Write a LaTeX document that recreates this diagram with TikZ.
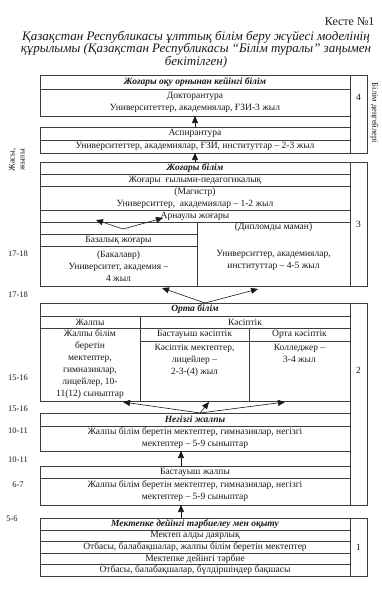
\documentclass[tikz,border=0pt]{standalone}
\usepackage{fontspec}
\setmainfont{Liberation Serif}
\usepackage{tikz}
\usetikzlibrary{arrows.meta,positioning}
\definecolor{ink}{HTML}{1A1A1A}
\definecolor{rule}{HTML}{3C3C3C}
\tikzset{
  cell/.style={
    rectangle, draw=rule, line width=0.5pt,
    inner sep=0pt, outer sep=0pt,
    minimum width=#1, text=ink,
    font=\fontsize{9.5}{12}\selectfont, align=center
  },
  cell/.default=310pt,
  headcell/.style={cell=#1,
    font=\fontsize{9.5}{12}\selectfont\bfseries\itshape},
  headcell/.default=310pt,
  celltext/.style={inner sep=0pt, text=ink,
    font=\fontsize{9.5}{12}\selectfont, align=center},
  levelcol/.style={rectangle, draw=rule, line width=0.5pt,
    inner sep=0pt, outer sep=0pt, minimum width=17pt},
  levelnum/.style={text=ink, font=\fontsize{9.5}{12}\selectfont},
  agelabel/.style={text=ink, font=\fontsize{8.5}{10}\selectfont},
  uparrow/.style={
    -{Triangle[length=7pt,width=6pt]}, line width=0.6pt, draw=ink
  },
}

\begin{document}
\begin{tikzpicture}[x=1pt, y=-1pt]
\fill[white] (0,0) rectangle (381,600);
\useasboundingbox (0,0) rectangle (381,600);
% title
\node[anchor=east, text=ink, font=\fontsize{12}{14}\selectfont] (tabno) at (378,22) {Кесте №1};
\node[text=ink, align=center, font=\fontsize{13}{12.6}\selectfont\itshape] (caption) at (196,49.5)
  {Қазақстан Республикасы ұлттық білім беру жүйесі моделінің\\
   құрылымы (Қазақстан Республикасы “Білім туралы” заңымен\\
   бекітілген)};
% level 4
\node[headcell, minimum height=14pt, anchor=north west] (pghead) at (40,75) {Жоғары оқу орнынан кейінгі білім};
\node[cell, minimum height=27pt, below=0pt of pghead] (phd) {Докторантура\\Университеттер, академиялар, ҒЗИ-3 жыл};
\node[cell, minimum height=13pt, anchor=north west] (asphead) at (40,127) {Аспирантура};
\node[cell, minimum height=13pt, below=0pt of asphead] (asp) {Университеттер, академиялар, ҒЗИ, институттар – 2-3 жыл};
\node[levelcol, minimum height=78pt, anchor=north west] (col4) at (350,75) {};
\node[levelnum] (num4) at (358.5,97) {4};
\node[text=ink, font=\fontsize{8.5}{10}\selectfont, rotate=-90] (levels) at (374.5,113) {Білім деңгейлері};
% level 3
\node[headcell, minimum height=12pt, anchor=north west] (hihead) at (40,162) {Жоғары білім};
\node[cell, minimum height=12pt, below=0pt of hihead] (sci) {Жоғары\ \ ғылыми-педагогикалық};
\node[cell, minimum height=24pt, below=0pt of sci] (mag) {(Магистр)\\Университтер,\ \ академиялар – 1-2 жыл};
\node[cell, minimum height=12pt, below=0pt of mag] (spec) {Арнаулы жоғары};
\node[cell=157pt, minimum height=12pt, anchor=north west] (gap3) at (spec.south west) {};
\node[cell=157pt, minimum height=12pt, below=0pt of gap3] (bachhead) {Базалық жоғары};
\node[cell=157pt, minimum height=40pt, below=0pt of bachhead] (bach) {(Бакалавр)\\Университет, академия –\\4 жыл};
\node[cell=153pt, minimum height=64pt, anchor=north east] (dipl) at (spec.south east) {};
\node[celltext, below=1pt of dipl.north] (dipltop) {(Дипломды маман)};
\node[celltext, below=18pt of dipltop] (diplbody) {Университтер, академиялар,\\институттар – 4-5 жыл};
\node[levelcol, minimum height=124pt, anchor=north west] (col3) at (350,162) {};
\node[levelnum] (num3) at (col3) {3};
% level 2
\node[headcell, minimum height=13pt, anchor=north west] (sechead) at (40,303) {Орта білім};
\node[cell=100pt, minimum height=12pt, anchor=north west] (genhead) at (sechead.south west) {Жалпы};
\node[cell=100pt, minimum height=73pt, below=0pt of genhead] (gen) {Жалпы білім\\беретін\\мектептер,\\гимназиялар,\\лицейлер, 10-\\11(12) сыныптар};
\node[cell=210pt, minimum height=12pt, anchor=north east] (vochead) at (sechead.south east) {Кәсіптік};
\node[cell=109pt, minimum height=13pt, anchor=north west] (vet1head) at (vochead.south west) {Бастауыш кәсіптік};
\node[cell=109pt, minimum height=60pt, below=0pt of vet1head] (vet1) {};
\node[cell=101pt, minimum height=13pt, anchor=north east] (vet2head) at (vochead.south east) {Орта кәсіптік};
\node[cell=101pt, minimum height=60pt, below=0pt of vet2head] (vet2) {};
\node[celltext, below=3pt of vet1.north] (vet1text) {Кәсіптік мектептер,\\лицейлер –\\2-3-(4) жыл};
\node[celltext, below=3pt of vet2.north] (vet2text) {Колледжер –\\3-4 жыл};
\node[headcell, minimum height=13pt, anchor=north west] (lsechead) at (40,413) {Негізгі жалпы};
\node[cell, minimum height=25pt, below=0pt of lsechead] (lsec) {Жалпы білім беретін мектептер, гимназиялар, негізгі\\мектептер – 5-9 сыныптар};
\node[cell, minimum height=12pt, anchor=north west] (primhead) at (40,466) {Бастауыш жалпы};
\node[cell, minimum height=27pt, below=0pt of primhead] (prim) {Жалпы білім беретін мектептер, гимназиялар, негізгі\\мектептер – 5-9 сыныптар};
\node[levelcol, minimum height=202pt, anchor=north west] (col2) at (350,303) {};
\node[levelnum] (num2) at (358.5,370) {2};
% level 1
\node[headcell, minimum height=12pt, anchor=north west] (prehead) at (40,518) {Мектепке дейінгі тәрбиелеу мен оқыту};
\node[cell, minimum height=11.5pt, below=0pt of prehead] (prep) {Мектеп алды даярлық};
\node[cell, minimum height=11.5pt, below=0pt of prep] (prepplace) {Отбасы, балабақшалар, жалпы білім беретін мектептер};
\node[cell, minimum height=11.5pt, below=0pt of prepplace] (kinder) {Мектепке дейінгі тәрбие};
\node[cell, minimum height=11.5pt, below=0pt of kinder] (kinderplace) {Отбасы, балабақшалар, бүлдіршіндер бақшасы};
\node[levelcol, minimum height=58pt, anchor=north west] (col1) at (350,518) {};
\node[levelnum] (num1) at (col1) {1};
% ages
\node[agelabel, rotate=90, align=center] (agehead) at (17,160) {Жасы,\\жылы};
\node[agelabel] (age1718a) at (18,254) {17-18};
\node[agelabel] (age1718b) at (18,295) {17-18};
\node[agelabel] (age1516a) at (18,378) {15-16};
\node[agelabel] (age1516b) at (18,409) {15-16};
\node[agelabel] (age1011a) at (18,431) {10-11};
\node[agelabel] (age1011b) at (18,460) {10-11};
\node[agelabel] (age67) at (18,485) {6-7};
\node[agelabel] (age56) at (12,519) {5-6};
% arrows
\coordinate (fork3) at (123,229);
\coordinate (spectipL) at (96,220);
\coordinate (spectipR) at (163,218);
\coordinate (tipbach) at (162,288);
\coordinate (tipdipl) at (258,289);
\coordinate (tipgen) at (123,402);
\coordinate (tipvet1) at (209,402);
\coordinate (tipvet2) at (285,402);
\draw[uparrow] (asphead.north) -- (phd.south);
\draw[uparrow] (hihead.north) -- (asp.south);
\draw[uparrow] (fork3) -- (spectipL);
\draw[uparrow] (fork3) -- (spectipR);
\draw[uparrow] ([xshift=10pt]sechead.north) -- (tipbach);
\draw[uparrow] ([xshift=10pt]sechead.north) -- (tipdipl);
\draw[uparrow] ([xshift=5pt]lsechead.north) -- (tipgen);
\draw[uparrow] ([xshift=5pt]lsechead.north) -- (tipvet1);
\draw[uparrow] ([xshift=5pt]lsechead.north) -- (tipvet2);
\draw[uparrow] ([xshift=-14pt]primhead.north) -- ([xshift=-14pt]lsec.south);
\draw[uparrow] ([xshift=-14pt]prehead.north) -- ([xshift=-14pt]prim.south);
\end{tikzpicture}
\end{document}
